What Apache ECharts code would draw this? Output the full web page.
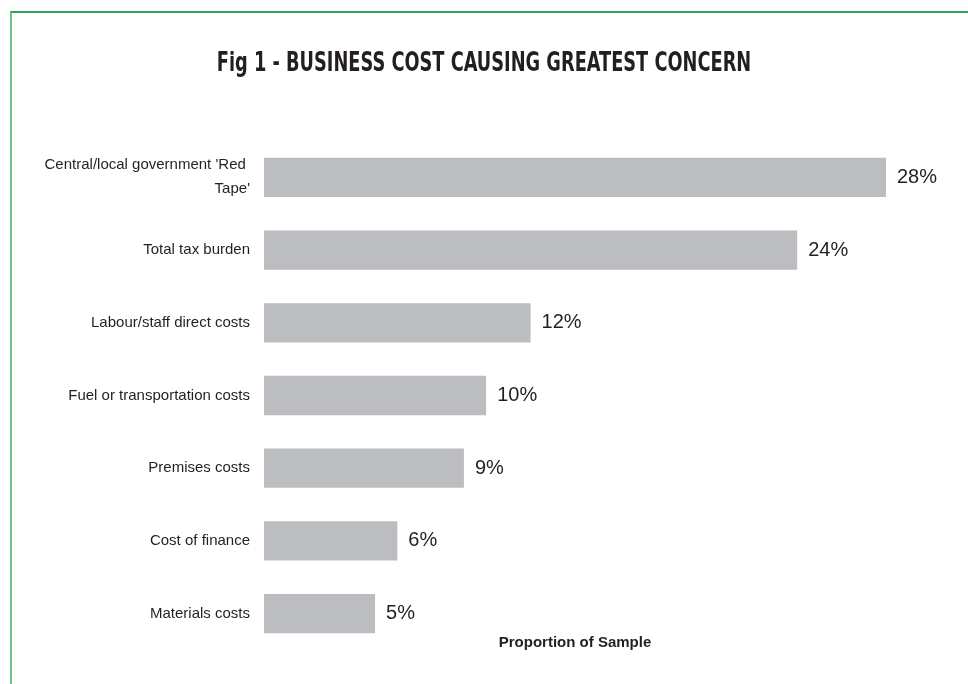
<!DOCTYPE html>
<html>
<head>
<meta charset="utf-8">
<script src="https://cdn.jsdelivr.net/npm/echarts@6/dist/echarts.min.js"></script>
<style>
  html, body { margin: 0; padding: 0; background: #ffffff; }
  #frame { position: absolute; left: 10px; top: 11px; width: 958px; height: 673px;
           border-top: 2px solid #2ea35a; border-left: 2px solid #6cc48a; box-sizing: border-box; }
  #chart { position: absolute; left: 0; top: 0; width: 968px; height: 684px; }
</style>
</head>
<body>
<div id="frame"></div>
<div id="chart"></div>
<script>
// Business cost causing greatest concern (share of respondents, %)
const categories = [
  "Central/local government 'Red Tape'",
  "Total tax burden",
  "Labour/staff direct costs",
  "Fuel or transportation costs",
  "Premises costs",
  "Cost of finance",
  "Materials costs"
];
const shares = [28, 24, 12, 10, 9, 6, 5];
const chartTitle = 'Fig 1 - BUSINESS COST CAUSING GREATEST CONCERN';

const chart = echarts.init(document.getElementById('chart'), null, { renderer: 'canvas' });
chart.setOption({
  backgroundColor: 'transparent',
  animation: false,
  // condensed bold heading: squeeze a condensed face horizontally
  graphic: [{
    type: 'text',
    x: 484,
    y: 64,
    scaleX: 0.76,
    scaleY: 1,
    style: {
      text: chartTitle,
      align: 'center',
      verticalAlign: 'middle',
      font: 'bold 26px "DejaVu Sans Condensed", "Liberation Sans", sans-serif',
      fill: '#231f20'
    }
  }],
  grid: { left: 264, right: 82, top: 141, bottom: 34, containLabel: false },
  xAxis: {
    type: 'value',
    min: 0,
    max: 28,
    show: true,
    axisLine: { show: false },
    axisTick: { show: false },
    axisLabel: { show: false },
    splitLine: { show: false },
    name: 'Proportion of Sample',
    nameLocation: 'middle',
    nameGap: -15,
    nameTextStyle: {
      fontFamily: '"Liberation Sans", Arial, sans-serif',
      fontWeight: 'bold',
      fontSize: 15,
      color: '#231f20'
    }
  },
  yAxis: {
    type: 'category',
    data: categories,
    inverse: true,
    axisLine: { show: false },
    axisTick: { show: false },
    axisLabel: {
      margin: 14,
      width: 215,
      overflow: 'break',
      lineHeight: 24,
      align: 'right',
      fontFamily: '"Liberation Sans", Arial, sans-serif',
      fontSize: 15,
      color: '#231f20'
    }
  },
  series: [{
    type: 'bar',
    data: shares,
    barCategoryGap: '46%',
    itemStyle: { color: '#bcbdc1' },
    label: {
      show: true,
      position: 'right',
      distance: 11,
      formatter: '{c}%',
      fontFamily: '"Liberation Sans", Arial, sans-serif',
      fontSize: 20,
      color: '#231f20'
    }
  }]
});
</script>
</body>
</html>
